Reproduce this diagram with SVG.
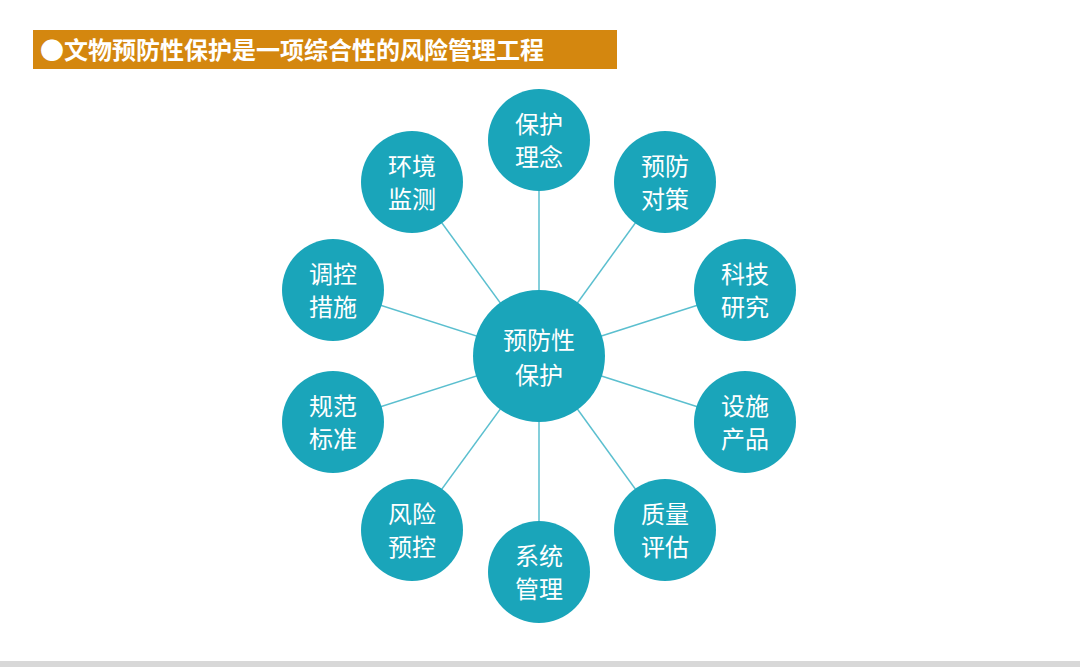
<svg xmlns="http://www.w3.org/2000/svg" width="1080" height="667" viewBox="0 0 1080 667">
<style>
.n{fill:#1AA5BA}
.t{fill:#fff;font-family:"Noto Sans CJK SC",sans-serif;font-size:24px;text-anchor:middle}
.c{stroke:#5BBFCF;stroke-width:1.5}
</style>
<rect width="1080" height="667" fill="#fff"/>
<rect x="0" y="661" width="1080" height="6" fill="#d8d8d8"/>
<g id="title"><rect x="33" y="30" width="584" height="39" fill="#D4870F"/>
<text x="40" y="59" font-family="Noto Sans CJK SC,sans-serif" font-size="24" font-weight="bold" fill="#fff">●文物预防性保护是一项综合性的风险管理工程</text></g>
<g id="connectors">
<line class="c" x1="539" y1="356" x2="539" y2="140"/>
<line class="c" x1="539" y1="356" x2="665" y2="182"/>
<line class="c" x1="539" y1="356" x2="745" y2="290"/>
<line class="c" x1="539" y1="356" x2="745" y2="422"/>
<line class="c" x1="539" y1="356" x2="665" y2="530"/>
<line class="c" x1="539" y1="356" x2="539" y2="572"/>
<line class="c" x1="539" y1="356" x2="412" y2="530"/>
<line class="c" x1="539" y1="356" x2="333" y2="422"/>
<line class="c" x1="539" y1="356" x2="333" y2="290"/>
<line class="c" x1="539" y1="356" x2="412" y2="182"/>
</g>
<g id="center"><circle class="n" cx="539" cy="356" r="66"/><text class="t" x="539" y="349">预防性</text><text class="t" x="539" y="384">保护</text></g>
<g id="n1"><circle class="n" cx="539" cy="140" r="51"/><text class="t" x="539" y="133">保护</text><text class="t" x="539" y="166">理念</text></g>
<g id="n2"><circle class="n" cx="665" cy="182" r="51"/><text class="t" x="665" y="175">预防</text><text class="t" x="665" y="208">对策</text></g>
<g id="n3"><circle class="n" cx="745" cy="290" r="51"/><text class="t" x="745" y="283">科技</text><text class="t" x="745" y="316">研究</text></g>
<g id="n4"><circle class="n" cx="745" cy="422" r="51"/><text class="t" x="745" y="415">设施</text><text class="t" x="745" y="448">产品</text></g>
<g id="n5"><circle class="n" cx="665" cy="530" r="51"/><text class="t" x="665" y="523">质量</text><text class="t" x="665" y="556">评估</text></g>
<g id="n6"><circle class="n" cx="539" cy="572" r="51"/><text class="t" x="539" y="565">系统</text><text class="t" x="539" y="598">管理</text></g>
<g id="n7"><circle class="n" cx="412" cy="530" r="51"/><text class="t" x="412" y="523">风险</text><text class="t" x="412" y="556">预控</text></g>
<g id="n8"><circle class="n" cx="333" cy="422" r="51"/><text class="t" x="333" y="415">规范</text><text class="t" x="333" y="448">标准</text></g>
<g id="n9"><circle class="n" cx="333" cy="290" r="51"/><text class="t" x="333" y="283">调控</text><text class="t" x="333" y="316">措施</text></g>
<g id="n10"><circle class="n" cx="412" cy="182" r="51"/><text class="t" x="412" y="175">环境</text><text class="t" x="412" y="208">监测</text></g>
</svg>
